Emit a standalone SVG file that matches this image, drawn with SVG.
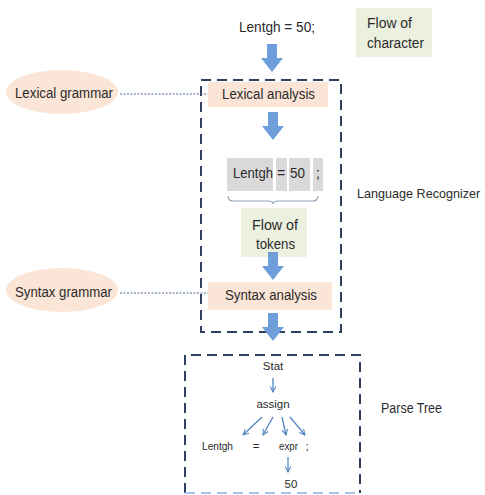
<svg xmlns="http://www.w3.org/2000/svg" width="485" height="495" viewBox="0 0 485 495">
  <style>
    text { font-family: "Liberation Sans", Arial, sans-serif; fill: #2b2b2b; }
    .lbl { font-size: 14px; }
    .sm { font-size: 11.5px; }
    .peach { fill: #fbe5d6; }
    .sage { fill: #ebf0df; }
    .tok { fill: #d9d9d9; }
    .frame { fill: none; stroke: #2f3f5e; stroke-width: 2; stroke-dasharray: 10 6; }
    .dots { fill: none; stroke: #4d6890; stroke-width: 1; stroke-dasharray: 2 1.5; }
    .block { fill: #6e9fdb; }
    .thin { fill: none; stroke: #5584bf; stroke-width: 1.3; marker-end: url(#vhead); }
  </style>
  <defs>
    <marker id="vhead" viewBox="0 0 10 10" refX="9" refY="5" markerWidth="7" markerHeight="7" markerUnits="userSpaceOnUse" orient="auto">
      <path d="M1,1 L9,5 L1,9" fill="none" stroke="#5584bf" stroke-width="1.5"/>
    </marker>
    <!-- thick down arrow, drawn with its tip at (0,0) -->
    <path id="down" d="M-5,-28 L5,-28 L5,-14 L11,-14 L0,0 L-11,-14 L-5,-14 Z"/>
  </defs>

  <rect width="485" height="495" fill="#ffffff"/>

  <!-- input characters -->
  <g id="source">
    <text class="lbl" x="239" y="32" textLength="76" lengthAdjust="spacingAndGlyphs">Lentgh = 50;</text>
  </g>
  <g id="flow-of-character">
    <rect class="sage" x="356" y="8" width="76" height="49"/>
    <text class="lbl" x="367" y="28" textLength="45" lengthAdjust="spacingAndGlyphs">Flow of</text>
    <text class="lbl" x="367" y="48" textLength="57" lengthAdjust="spacingAndGlyphs">character</text>
  </g>

  <!-- recognizer frame -->
  <g id="language-recognizer">
    <rect class="frame" x="201" y="80" width="140" height="252"/>
    <text x="357" y="198" font-size="12.6">Language Recognizer</text>
  </g>

  <g id="lexical-grammar">
    <ellipse class="peach" cx="62" cy="92" rx="56" ry="22"/>
    <text class="lbl" x="15" y="98" textLength="98" lengthAdjust="spacingAndGlyphs">Lexical grammar</text>
  </g>
  <g id="lexical-analysis">
    <rect class="peach" x="208" y="82" width="120" height="25"/>
    <text class="lbl" x="222" y="99" textLength="93" lengthAdjust="spacingAndGlyphs">Lexical analysis</text>
  </g>

  <g id="tokens">
    <rect class="tok" x="227" y="158" width="46" height="33"/>
    <rect class="tok" x="276" y="158" width="11" height="33"/>
    <rect class="tok" x="289" y="158" width="21" height="33"/>
    <rect class="tok" x="313" y="158" width="10" height="33"/>
    <text class="lbl" x="233" y="178" font-size="15" textLength="40" lengthAdjust="spacingAndGlyphs">Lentgh</text>
    <text class="lbl" x="281" y="178" font-size="15" text-anchor="middle">=</text>
    <text class="lbl" x="290" y="178" font-size="15" textLength="15" lengthAdjust="spacingAndGlyphs">50</text>
    <text class="lbl" x="318" y="178" font-size="15" text-anchor="middle">;</text>
    <path d="M228,196 Q228,201 233,201 L268,201 Q273,201 273,204 Q273,201 278,201 L313,201 Q318,201 318,196" fill="none" stroke="#8fa0b5" stroke-width="1.2"/>
  </g>
  <g id="flow-of-tokens">
    <rect class="sage" x="241" y="208" width="66" height="49"/>
    <text class="lbl" x="252" y="230" textLength="46" lengthAdjust="spacingAndGlyphs">Flow of</text>
    <text class="lbl" x="256" y="249" textLength="39" lengthAdjust="spacingAndGlyphs">tokens</text>
  </g>

  <g id="syntax-grammar">
    <ellipse class="peach" cx="62" cy="290" rx="56" ry="22"/>
    <text class="lbl" x="15" y="297" textLength="97" lengthAdjust="spacingAndGlyphs">Syntax grammar</text>
  </g>
  <g id="syntax-analysis">
    <rect class="peach" x="208" y="282" width="124" height="28"/>
    <text class="lbl" x="225" y="300" textLength="92" lengthAdjust="spacingAndGlyphs">Syntax analysis</text>
  </g>

  <!-- parse tree -->
  <g id="parse-tree">
    <path class="frame" d="M185,493 L185,355 L360,355 L360,493"/>
    <path d="M185,493 L360,493" fill="none" stroke="#a9c6e8" stroke-width="2" stroke-dasharray="10 6"/>
    <text class="lbl" x="381" y="413" textLength="61" lengthAdjust="spacingAndGlyphs">Parse Tree</text>
    <text class="sm" x="273" y="370" text-anchor="middle">Stat</text>
    <text class="sm" x="273" y="408" text-anchor="middle">assign</text>
    <text class="sm" x="202" y="450" textLength="31" lengthAdjust="spacingAndGlyphs">Lentgh</text>
    <text class="sm" x="256" y="450" text-anchor="middle">=</text>
    <text class="sm" x="279" y="450" textLength="19" lengthAdjust="spacingAndGlyphs">expr</text>
    <text class="sm" x="307" y="450" text-anchor="middle">;</text>
    <text class="sm" x="291" y="488" text-anchor="middle">50</text>
  </g>

  <!-- connectors -->
  <g id="connectors">
    <use href="#down" class="block" x="272" y="72"/>
    <use href="#down" class="block" x="273" y="140"/>
    <use href="#down" class="block" x="273" y="280"/>
    <use href="#down" class="block" x="273" y="341"/>
    <path class="dots" d="M120,94 L208,94"/>
    <path class="dots" d="M120,293 L208,293"/>
    <path class="thin" d="M273,378 L273,392"/>
    <path class="thin" d="M262,417 L243,435"/>
    <path class="thin" d="M273,417 L263,435"/>
    <path class="thin" d="M282,417 L286,435"/>
    <path class="thin" d="M290,417 L305,435"/>
    <path class="thin" d="M288,457 L288,472"/>
  </g>
</svg>
